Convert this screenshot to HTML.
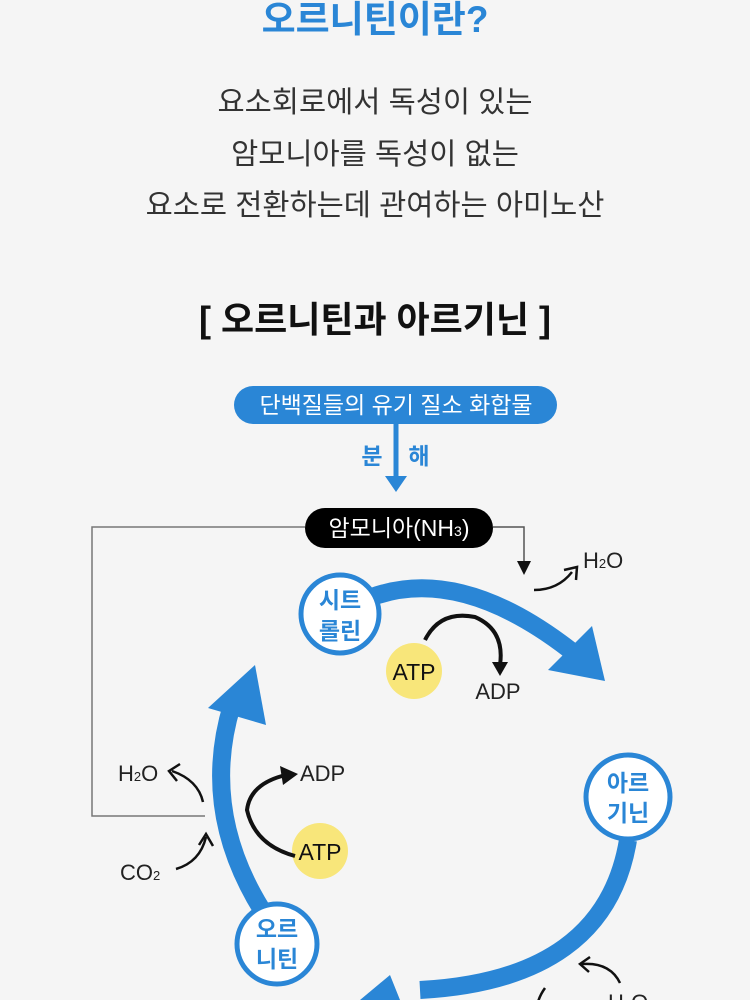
<!DOCTYPE html>
<html><head><meta charset="utf-8"><style>
html,body{margin:0;padding:0;background:#f5f5f5;}
body{width:750px;height:1000px;overflow:hidden;position:relative;font-family:"Liberation Sans","Noto Sans CJK KR",sans-serif;}
.t{position:absolute;left:0;width:750px;text-align:center;}
</style></head><body>
<div class="t" style="top:-11px;font-size:37px;font-weight:bold;color:#2a86d6;">오르니틴이란?</div>
<div class="t" style="top:77px;font-size:29.5px;color:#333;line-height:51.5px;">요소회로에서 독성이 있는<br>암모니아를 독성이 없는<br>요소로 전환하는데 관여하는 아미노산</div>
<div class="t" style="top:291px;font-size:36px;font-weight:bold;color:#111;">[ 오르니틴과 아르기닌 ]</div>
<svg width="750" height="1000" style="position:absolute;left:0;top:0" font-family="Liberation Sans, Noto Sans CJK KR, sans-serif">
<rect x="234" y="386" width="323" height="38" rx="19" fill="#2a86d6"/>
<text x="396" y="413" font-size="23" fill="#fff" text-anchor="middle">단백질들의 유기 질소 화합물</text>
<line x1="396" y1="424" x2="396" y2="478" stroke="#2a86d6" stroke-width="5"/>
<path d="M385,476 L407,476 L396,492 z" fill="#2a86d6"/>
<text x="372" y="464" font-size="23" font-weight="bold" fill="#2a86d6" text-anchor="middle">분</text>
<text x="419" y="464" font-size="23" font-weight="bold" fill="#2a86d6" text-anchor="middle">해</text>
<path d="M305,527 H92 V816 H205" fill="none" stroke="#777" stroke-width="1.5"/>
<path d="M493,527 H524 V562" fill="none" stroke="#555" stroke-width="1.5"/>
<path d="M517,561 L531,561 L524,575 z" fill="#111"/>
<rect x="305" y="508" width="188" height="40" rx="20" fill="#000"/>
<text x="399" y="536" font-size="23" fill="#fff" text-anchor="middle">암모니아(NH<tspan font-size="14">3</tspan>)</text>
<path d="M534,590 Q558,590 572,572" fill="none" stroke="#111" stroke-width="2.5"/>
<path d="M564,570 L577,567 L576,580" fill="none" stroke="#111" stroke-width="2.5"/>
<text x="583" y="568" font-size="22" fill="#222">H<tspan font-size="13">2</tspan>O</text>
<path d="M372,597 Q460,565 570,650" fill="none" stroke="#2a86d6" stroke-width="18"/>
<path d="M548,670 L592,626 L605,681 z" fill="#2a86d6"/>
<path d="M262,910 Q200,810 232,705" fill="none" stroke="#2a86d6" stroke-width="18"/>
<path d="M208,708 L266,725 L255,665 z" fill="#2a86d6"/>
<path d="M628,840 Q605,980 420,990" fill="none" stroke="#2a86d6" stroke-width="18"/>
<path d="M390,975 L400,1000 L360,1000 z" fill="#2a86d6"/>
<circle cx="340" cy="614" r="39" fill="#fff" stroke="#2a86d6" stroke-width="5"/>
<text x="340" y="608" font-size="23" font-weight="bold" fill="#2a86d6" text-anchor="middle">시트</text>
<text x="340" y="639" font-size="23" font-weight="bold" fill="#2a86d6" text-anchor="middle">롤린</text>
<circle cx="628" cy="797" r="42" fill="#fff" stroke="#2a86d6" stroke-width="5"/>
<text x="628" y="791" font-size="23" font-weight="bold" fill="#2a86d6" text-anchor="middle">아르</text>
<text x="628" y="821" font-size="23" font-weight="bold" fill="#2a86d6" text-anchor="middle">기닌</text>
<circle cx="277" cy="944" r="40" fill="#fff" stroke="#2a86d6" stroke-width="5"/>
<text x="277" y="937" font-size="23" font-weight="bold" fill="#2a86d6" text-anchor="middle">오르</text>
<text x="277" y="967" font-size="23" font-weight="bold" fill="#2a86d6" text-anchor="middle">니틴</text>
<circle cx="414" cy="671" r="28" fill="#f8e67a"/>
<text x="414" y="680" font-size="23" fill="#111" text-anchor="middle">ATP</text>
<path d="M425,640 Q440,610 475,617 Q505,630 500,665" fill="none" stroke="#111" stroke-width="4"/>
<path d="M492,662 L508,662 L500,676 z" fill="#111"/>
<text x="498" y="699" font-size="22" fill="#222" text-anchor="middle">ADP</text>
<circle cx="320" cy="851" r="28" fill="#f8e67a"/>
<text x="320" y="860" font-size="23" fill="#111" text-anchor="middle">ATP</text>
<path d="M295,856 Q255,845 247,810 Q250,785 282,776" fill="none" stroke="#111" stroke-width="4"/>
<path d="M280,766 L298,774 L283,785 z" fill="#111"/>
<text x="300" y="781" font-size="22" fill="#222">ADP</text>
<text x="118" y="781" font-size="22" fill="#222">H<tspan font-size="13">2</tspan>O</text>
<path d="M203,802 Q198,780 172,771" fill="none" stroke="#111" stroke-width="2.5"/>
<path d="M180,764 L169,771 L177,781" fill="none" stroke="#111" stroke-width="2.5"/>
<text x="120" y="880" font-size="22" fill="#222">CO<tspan font-size="13">2</tspan></text>
<path d="M176,869 Q200,862 206,837" fill="none" stroke="#111" stroke-width="2.5"/>
<path d="M199,845 L206,834 L213,846" fill="none" stroke="#111" stroke-width="2.5"/>
<path d="M620,983 Q610,962 582,964" fill="none" stroke="#111" stroke-width="2.5"/>
<path d="M590,957 L580,964 L589,972" fill="none" stroke="#111" stroke-width="2.5"/>
<path d="M545,988 Q540,995 538,1002" fill="none" stroke="#111" stroke-width="2.5"/>
<text x="608" y="1010" font-size="22" fill="#222">H<tspan font-size="13">2</tspan>O</text>
</svg>
</body></html>
